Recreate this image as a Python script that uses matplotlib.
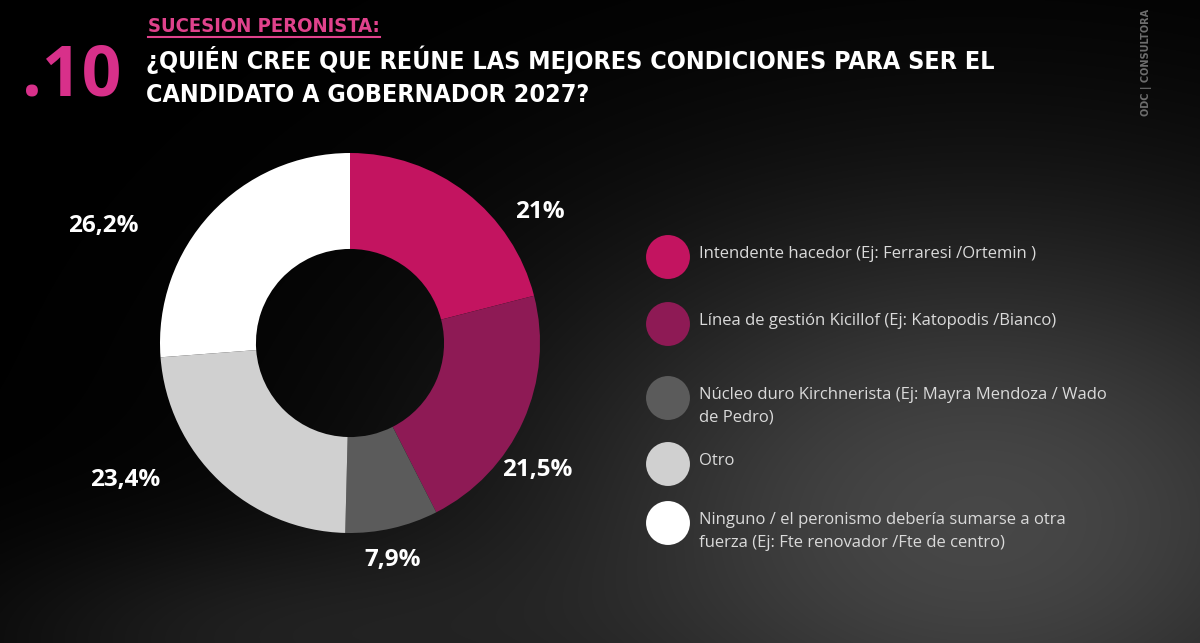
import matplotlib
matplotlib.use("Agg")
import matplotlib.pyplot as plt
import numpy as np

# data
categories = [
    "Intendente hacedor (Ej: Ferraresi /Ortemin )",
    "Línea de gestión Kicillof (Ej: Katopodis /Bianco)",
    "Núcleo duro Kirchnerista (Ej: Mayra Mendoza / Wado\nde Pedro)",
    "Otro",
    "Ninguno / el peronismo debería sumarse a otra\nfuerza (Ej: Fte renovador /Fte de centro)",
]
values = [21.0, 21.5, 7.9, 23.4, 26.2]
value_labels = ["21%", "21,5%", "7,9%", "23,4%", "26,2%"]
colors = ["#C31460", "#8E1A55", "#5B5B5B", "#D0D0D0", "#FFFFFF"]

W, H = 1200, 643
fig = plt.figure(figsize=(12, 6.43), dpi=100)

# dark photo-like background (rough gradient)
bg = fig.add_axes([0, 0, 1, 1])
yy, xx = np.mgrid[0:H, 0:W]
g = 0.28 * np.exp(-(((xx - 980) / 480.0) ** 2 + ((yy - 520) / 320.0) ** 2))
g += 0.10 * np.exp(-(((xx - 250) / 300.0) ** 2 + ((yy - 640) / 110.0) ** 2))
g = np.clip(g, 0, 1)
bg.imshow(np.dstack([g, g, g]), extent=[0, W, H, 0], aspect="auto")
bg.set_xlim(0, W)
bg.set_ylim(H, 0)
bg.axis("off")

# donut
cx, cy, box = 350, 343, 200
ax = fig.add_axes([(cx - box) / W, (H - cy - box) / H, 2 * box / W, 2 * box / H])
ax.pie(values, colors=colors, startangle=90, counterclock=False, radius=0.95,
       wedgeprops=dict(width=0.95 * 0.505, edgecolor="none"))
ax.set_xlim(-1, 1)
ax.set_ylim(-1, 1)
ax.set_aspect("equal")
ax.axis("off")

# percentage labels (pixel positions)
label_pos = [(540, 212), (537, 470), (393, 560), (125, 480), (103, 226)]
for (px, py), t in zip(label_pos, value_labels):
    bg.text(px, py, t, color="white", fontsize=17.5, fontweight="bold",
            family=["Open Sans", "DejaVu Sans"], ha="center", va="center")

# legend
leg_y = [257, 324, 398, 464, 523]
for yv, c, lab in zip(leg_y, colors, categories):
    bg.scatter([668], [yv], s=1000, color=c, edgecolors="none")
    bg.text(699, yv - 11, lab, color="#DADADA", fontsize=12,
            family=["Open Sans", "DejaVu Sans"], ha="left", va="top",
            linespacing=1.55)

# titles
cond = ["DejaVu Sans"]
sub = bg.text(148, 27, "SUCESION PERONISTA:", color="#E0428C", fontsize=14.5,
              fontweight="bold", family=cond, fontstretch="condensed",
              ha="left", va="center")
bg.text(146, 60, "¿QUIÉN CREE QUE REÚNE LAS MEJORES CONDICIONES PARA SER EL",
        color="white", fontsize=18, fontweight="bold", family=cond,
        fontstretch="condensed", ha="left", va="center")
bg.text(146, 95, "CANDIDATO A GOBERNADOR 2027?",
        color="white", fontsize=18, fontweight="bold", family=cond,
        fontstretch="condensed", ha="left", va="center")
bg.text(22, 77, ".10", color="#D8308A", fontsize=50, fontweight="bold",
        family=["Open Sans", "DejaVu Sans"], ha="left", va="center")

# underline of the subtitle
fig.canvas.draw()
bb = sub.get_window_extent().transformed(bg.transData.inverted())
bg.plot([bb.x0, bb.x1], [37, 37], color="#E0428C", lw=1.5)

# corner logo
bg.text(1146, 62, "ODC | CONSULTORA", color="#6E6E6E", fontsize=7,
        fontweight="bold", rotation=90, family=["DejaVu Sans"],
        ha="center", va="center")

bg.set_xlim(0, W)
bg.set_ylim(H, 0)
fig.savefig("out.png", dpi=100)
